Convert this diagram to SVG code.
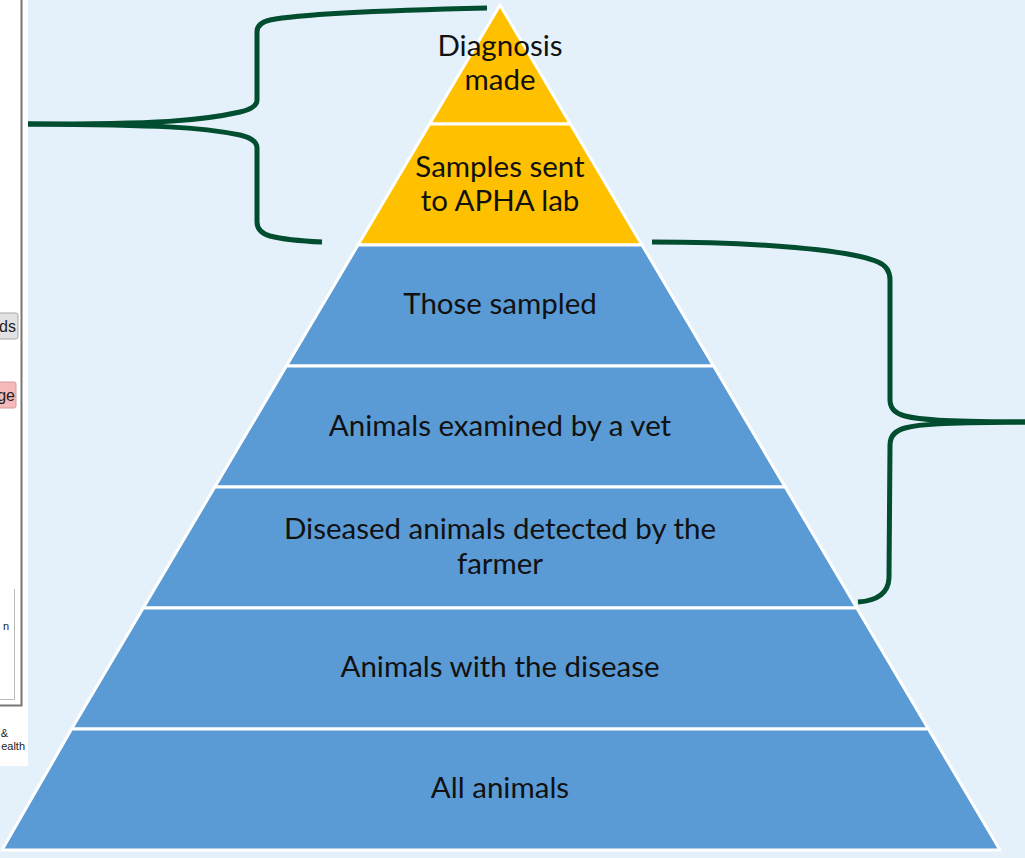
<svg xmlns="http://www.w3.org/2000/svg" width="1025" height="858" viewBox="0 0 1025 858">
<style>
.y{fill:#FFC000;stroke:#fff;stroke-width:3;stroke-linejoin:round}
.b{fill:#5B9BD5;stroke:#fff;stroke-width:3;stroke-linejoin:round}
.t{font-family:Lato,"Open Sans",sans-serif;font-size:29.5px;fill:#111;text-anchor:middle}
.br{fill:none;stroke:#004D2F;stroke-width:5;stroke-linecap:butt}
.ui{font-family:"Liberation Sans",Arial,sans-serif;fill:#222}
</style>
<rect width="1025" height="858" fill="#E5F1FA"/>
<g id="side-panel">
<rect x="0" y="0" width="28" height="766" fill="#fff"/>
<path d="M21.5 0 V705.5 H0" fill="none" stroke="#777" stroke-width="2"/>
<rect x="-2" y="313" width="20" height="26" rx="2" fill="#E2E2E2" stroke="#A8A8A8"/>
<text class="ui" x="16" y="332" font-size="16" text-anchor="end">ds</text>
<rect x="-2" y="382" width="18" height="26" rx="2" fill="#F5B9B9" stroke="#D89A9A"/>
<text class="ui" x="15" y="401" font-size="16" text-anchor="end">ge</text>
<path d="M14.5 589 V699.5 H0" fill="none" stroke="#BBB" stroke-width="1"/>
<text class="ui" x="9" y="630" font-size="11" text-anchor="end">n</text>
<text class="ui" x="8" y="737" font-size="11" text-anchor="end">&amp;</text>
<text class="ui" x="25" y="750" font-size="11" text-anchor="end">ealth</text>
</g>
<g id="layer1"><polygon class="y" points="500,5 570.4,124 429.6,124"/><text class="t" x="500" y="56">Diagnosis</text><text class="t" x="500" y="90">made</text></g>
<g id="layer2"><polygon class="y" points="429.6,124 570.4,124 642,245 358,245"/><text class="t" x="500" y="177">Samples sent</text><text class="t" x="500" y="211">to APHA lab</text></g>
<g id="layer3"><polygon class="b" points="358,245 642,245 713.6,366 286.4,366"/><text class="t" x="500" y="314">Those sampled</text></g>
<g id="layer4"><polygon class="b" points="286.4,366 713.6,366 785.2,487 214.8,487"/><text class="t" x="500" y="436">Animals examined by a vet</text></g>
<g id="layer5"><polygon class="b" points="214.8,487 785.2,487 856.8,608 143.2,608"/><text class="t" x="500" y="539">Diseased animals detected by the</text><text class="t" x="500" y="574">farmer</text></g>
<g id="layer6"><polygon class="b" points="143.2,608 856.8,608 928.4,729 71.6,729"/><text class="t" x="500" y="677">Animals with the disease</text></g>
<g id="layer7"><polygon class="b" points="71.6,729 928.4,729 1000,850 2,850"/><text class="t" x="500" y="798">All animals</text></g>
<g id="connectors">
<path class="br" d="M487 8 C400 10 300 14 270 20 Q257 23 257 32 L257 100 Q257 108 240 112 C200 121 160 124 28 124"/>
<path class="br" d="M28 124 C160 125 200 127 240 135 Q257 139 257 148 L257 222 Q257 232 270 236 C285 240 300 241 322 242"/>
<path class="br" d="M652 242 C760 242 850 250 878 262 Q890 267 890 280 L890 400 Q890 412 905 416 C920 420 940 421 1025 422"/>
<path class="br" d="M1025 422 C940 423 920 424 905 428 Q890 432 890 445 L889 578 Q888 600 858 602"/>
</g>
</svg>
